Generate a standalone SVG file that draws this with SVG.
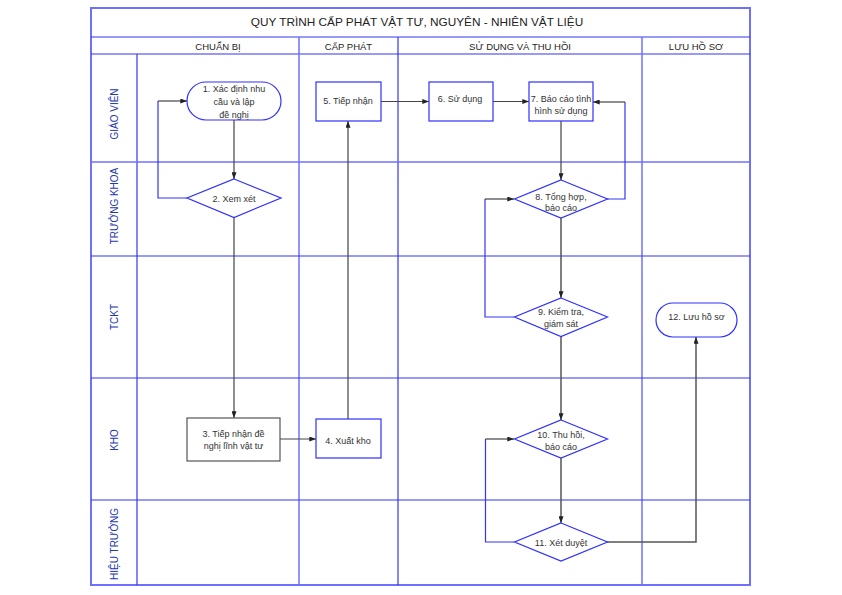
<svg xmlns="http://www.w3.org/2000/svg" width="842" height="595" viewBox="0 0 842 595">
<defs>
<marker id="arr" viewBox="0 0 8 6" refX="8" refY="3" markerWidth="7" markerHeight="5" orient="auto" markerUnits="userSpaceOnUse">
<path d="M0,0 L8,3 L0,6 z" fill="#222"/>
</marker>
<style>
.frame{fill:none;stroke:#7070ff;stroke-width:2}
.grid{stroke:#3535f0;stroke-width:1.2;fill:none}
.gridl{stroke:#7070ff;stroke-width:1.5;fill:none}
.node{fill:#fff;stroke:#3030ff;stroke-width:1.2}
.gnode{fill:#fff;stroke:#555;stroke-width:1.2}
.t{font-family:"Liberation Sans",Arial,sans-serif;font-size:9px;fill:#333;text-anchor:middle}
.h{font-family:"Liberation Sans",Arial,sans-serif;font-size:9.5px;fill:#222;text-anchor:middle}
.title{font-family:"Liberation Sans",Arial,sans-serif;font-size:11.8px;fill:#222;text-anchor:middle}
.lane{font-family:"Liberation Sans",Arial,sans-serif;font-size:10px;fill:#2436b0;text-anchor:middle}
.c{fill:none;stroke:#444;stroke-width:1.2}
.cb{fill:none;stroke:#3535f0;stroke-width:1.2}
</style>
</defs>
<rect width="842" height="595" fill="#fff"/>
<g id="grid">
<rect class="frame" x="91" y="8" width="659" height="577"/>
<line class="grid" x1="91" y1="37" x2="750" y2="37"/>
<line class="grid" x1="91" y1="54" x2="750" y2="54"/>
<line class="grid" x1="137" y1="54" x2="137" y2="585"/>
<line class="gridl" x1="299" y1="37" x2="299" y2="585"/>
<line class="grid" x1="398" y1="37" x2="398" y2="585"/>
<line class="gridl" x1="642" y1="37" x2="642" y2="585"/>
<line class="gridl" x1="91" y1="162" x2="750" y2="162"/>
<line class="grid" x1="91" y1="256" x2="750" y2="256"/>
<line class="grid" x1="91" y1="378" x2="750" y2="378"/>
<line class="grid" x1="91" y1="500" x2="750" y2="500"/>
</g>
<g id="headers">
<text class="title" x="417" y="26">QUY TRÌNH CẤP PHÁT VẬT TƯ, NGUYÊN - NHIÊN VẬT LIỆU</text>
<text class="h" x="218" y="49.5">CHUẨN BỊ</text>
<text class="h" x="348.5" y="49.5">CẤP PHÁT</text>
<text class="h" x="520" y="49.5">SỬ DỤNG VÀ THU HỒI</text>
<text class="h" x="696" y="49.5">LƯU HỒ SƠ</text>
</g>
<g id="lanes">
<text class="lane" x="117.5" y="114" transform="rotate(-90 117.5 114)">GIÁO VIÊN</text>
<text class="lane" x="117.5" y="206" transform="rotate(-90 117.5 206)">TRƯỞNG KHOA</text>
<text class="lane" x="117.5" y="317" transform="rotate(-90 117.5 317)">TCKT</text>
<text class="lane" x="117.5" y="440" transform="rotate(-90 117.5 440)">KHO</text>
<text class="lane" x="117.5" y="544" transform="rotate(-90 117.5 544)">HIỆU TRƯỞNG</text>
</g>
<g id="connectors">
<path class="c" d="M234,120 V179" marker-end="url(#arr)"/>
<path class="cb" d="M187,198 H158 V101"/>
<path class="c" d="M158,101 H187" marker-end="url(#arr)"/>
<path class="c" d="M234,218 V418" marker-end="url(#arr)"/>
<path class="c" d="M280,439 H316" marker-end="url(#arr)"/>
<path class="c" d="M348,419 V121" marker-end="url(#arr)"/>
<path class="c" d="M381,101.5 H429" marker-end="url(#arr)"/>
<path class="c" d="M493,101.5 H529" marker-end="url(#arr)"/>
<path class="c" d="M561,121 V180" marker-end="url(#arr)"/>
<path class="cb" d="M607,199 H625 V102"/>
<path class="c" d="M625,102 H593" marker-end="url(#arr)"/>
<path class="c" d="M561,218 V298" marker-end="url(#arr)" style="stroke:#555;stroke-width:1.5"/>
<path class="cb" d="M514,317 H485 V199"/>
<path class="c" d="M485,199 H514" marker-end="url(#arr)"/>
<path class="c" d="M561,337 V420" marker-end="url(#arr)" style="stroke:#555;stroke-width:1.5"/>
<path class="c" d="M561,458 V523" marker-end="url(#arr)" style="stroke:#555;stroke-width:1.5"/>
<path class="cb" d="M514,542 H485.5 V439"/>
<path class="c" d="M485.5,439 H514" marker-end="url(#arr)"/>
<path class="c" d="M607,542 H696 V337" marker-end="url(#arr)" style="stroke:#555;stroke-width:1.5"/>
</g>
<g id="n1">
<rect class="node" x="187" y="82" width="94" height="38" rx="19" ry="19"/>
<text class="t" x="234" y="91.5">1. Xác định nhu</text>
<text class="t" x="234" y="104.5">cầu và lập</text>
<text class="t" x="234" y="117.5">đề nghị</text>
</g>
<g id="n2">
<polygon class="node" points="234,179 281,198 234,217.5 187,198"/>
<text class="t" x="234" y="201.5">2. Xem xét</text>
</g>
<g id="n3">
<rect class="gnode" x="187" y="418" width="93" height="43"/>
<text class="t" x="233.5" y="436.5">3. Tiếp nhận đề</text>
<text class="t" x="233.5" y="448.5">nghị lĩnh vật tư</text>
</g>
<g id="n4">
<rect class="node" x="316" y="419" width="65" height="39"/>
<text class="t" x="348" y="444">4. Xuất kho</text>
</g>
<g id="n5">
<rect class="node" x="316" y="82" width="65" height="39"/>
<text class="t" x="348" y="104">5. Tiếp nhận</text>
</g>
<g id="n6">
<rect class="node" x="429" y="82" width="64" height="39"/>
<text class="t" x="460" y="101.5">6. Sử dụng</text>
</g>
<g id="n7">
<rect class="node" x="529" y="82" width="64" height="39"/>
<text class="t" x="561" y="101.5">7. Báo cáo tình</text>
<text class="t" x="561" y="113.5">hình sử dụng</text>
</g>
<g id="n8">
<polygon class="node" points="561,180 607.5,199 561,218 514.5,199"/>
<text class="t" x="561" y="199.5">8. Tổng hợp,</text>
<text class="t" x="561" y="210.5">báo cáo</text>
</g>
<g id="n9">
<polygon class="node" points="561,298 607.5,317 561,336.5 514.5,317"/>
<text class="t" x="561" y="315">9. Kiểm tra,</text>
<text class="t" x="561" y="326.5">giám sát</text>
</g>
<g id="n10">
<polygon class="node" points="561,420 607.5,439 561,458 514.5,439"/>
<text class="t" x="561" y="438">10. Thu hồi,</text>
<text class="t" x="561" y="450">báo cáo</text>
</g>
<g id="n11">
<polygon class="node" points="561,523 607.5,542 561,561 514.5,542"/>
<text class="t" x="561" y="546">11. Xét duyệt</text>
</g>
<g id="n12">
<rect class="node" x="656" y="303" width="81" height="34" rx="17" ry="17"/>
<text class="t" x="696.5" y="320">12. Lưu hồ sơ</text>
</g>
</svg>
